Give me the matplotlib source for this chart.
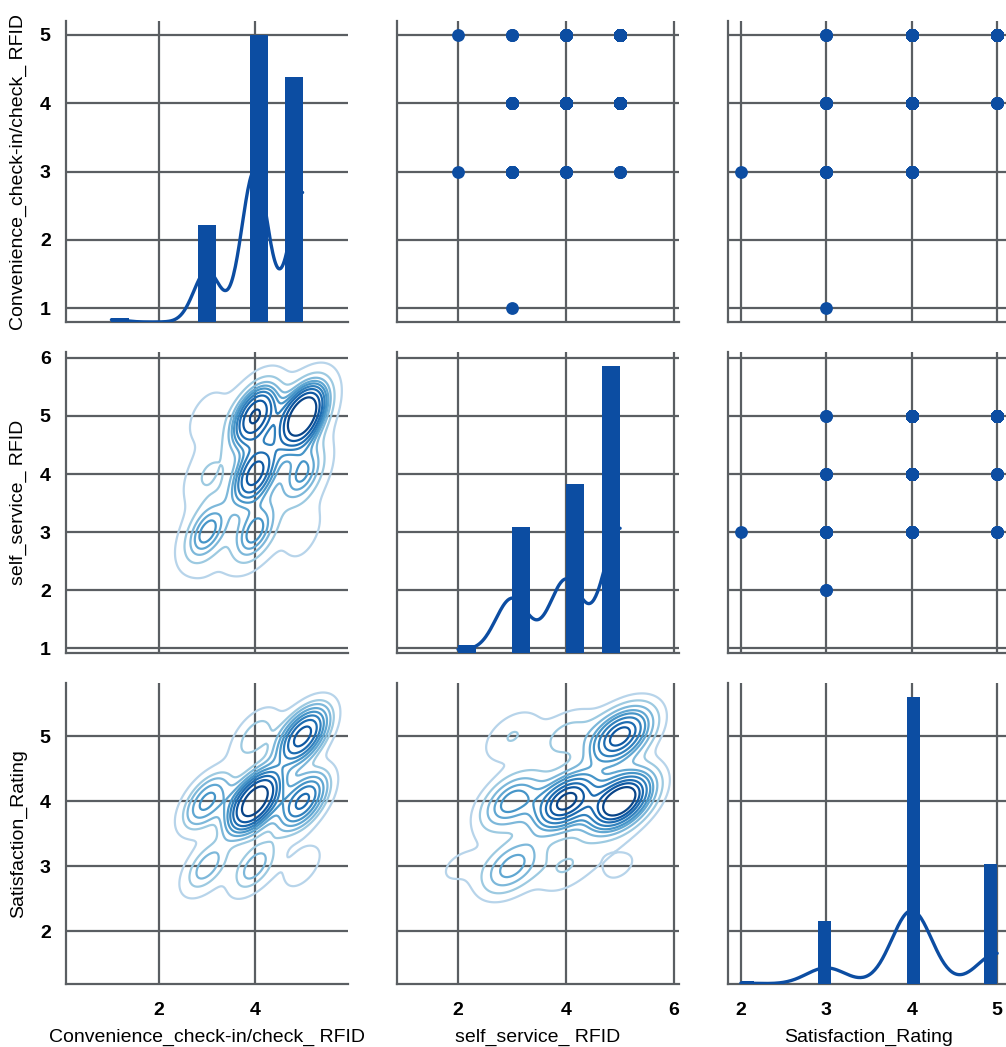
import numpy as np
import matplotlib
matplotlib.use("Agg")
import matplotlib.pyplot as plt

# rating combinations (convenience, self service, satisfaction) and how many answers had each
conv = [1, 3, 3, 5, 3, 3, 3, 3, 3, 3, 4, 4, 4, 4, 4, 4, 4, 4, 5, 5, 5, 5, 5, 5, 5, 5]
selfs = [3, 3, 2, 2, 3, 3, 4, 4, 5, 5, 3, 3, 3, 4, 4, 4, 5, 5, 3, 3, 4, 4, 4, 5, 5, 5]
sat = [3, 2, 3, 3, 3, 4, 3, 4, 3, 4, 3, 4, 5, 3, 4, 5, 4, 5, 4, 5, 3, 4, 5, 3, 4, 5]
count = [1, 1, 1, 1, 5, 8, 1, 4, 1, 2, 6, 6, 2, 2, 22, 1, 26, 3, 1, 2, 1, 8, 4, 1, 14, 26]

labels = ["Convenience_check-in/check_ RFID", "self_service_ RFID", "Satisfaction_Rating"]
x_ticks = [[2, 4], [2, 4, 6], [2, 3, 4, 5]]
y_ticks = [[1, 2, 3, 4, 5], [1, 2, 3, 4, 5, 6], [2, 3, 4, 5]]

blue = "#0c4da2"
grid_col = "#5a5e62"

plt.rcParams["font.family"] = ["Liberation Sans", "DejaVu Sans"]
plt.rcParams["font.size"] = 14

samples = [np.repeat(np.array(v, float), count) for v in (conv, selfs, sat)]


def kde1d(v, grid):
    h = v.std(ddof=1) * len(v) ** (-0.2)
    z = np.exp(-0.5 * ((grid[:, None] - v) / h) ** 2).sum(1)
    return z / (len(v) * h * np.sqrt(2 * np.pi))


def kde2d(x, y, gridsize=200, cut=3):
    data = np.vstack([x, y])
    n = data.shape[1]
    f = n ** (-1 / 6)
    cov = np.cov(data) * f ** 2
    inv = np.linalg.inv(cov)
    bw = np.sqrt(np.diag(cov))
    gx = np.linspace(x.min() - cut * bw[0], x.max() + cut * bw[0], gridsize)
    gy = np.linspace(y.min() - cut * bw[1], y.max() + cut * bw[1], gridsize)
    X, Y = np.meshgrid(gx, gy)
    dx = X[..., None] - x
    dy = Y[..., None] - y
    q = inv[0, 0] * dx ** 2 + 2 * inv[0, 1] * dx * dy + inv[1, 1] * dy ** 2
    Z = np.exp(-0.5 * q).sum(-1) / (n * 2 * np.pi * np.sqrt(np.linalg.det(cov)))
    return X, Y, Z


def iso_levels(Z, n_levels=10, thresh=0.05):
    vals = np.sort(Z.ravel())[::-1]
    cum = np.cumsum(vals) / vals.sum()
    idx = np.searchsorted(cum, 1 - np.linspace(thresh, 1, n_levels))
    return np.take(vals, idx, mode="clip")


W, H = 1006, 1047
fig = plt.figure(figsize=(W / 100, H / 100), dpi=100)

col_left = [66, 397, 728]
row_top = [21, 352, 683]
pw, ph = 282, 301
x_lims = [(0.05, 5.95), (0.87, 6.09), (1.85, 5.15)]
y_lims = [(0.8, 5.2), (0.92, 6.1), (1.19, 5.82)]
hist_bins = [11, 9, 20]
contour_cols = plt.get_cmap("Blues")(np.linspace(0.3, 1.0, 10))

for i in range(3):
    for j in range(3):
        ax = fig.add_axes([col_left[j] / W, 1 - (row_top[i] + ph) / H, pw / W, ph / H])
        ax.set_xlim(*x_lims[j])
        ax.set_ylim(*y_lims[i])
        ax.set_xticks(x_ticks[j])
        ax.set_yticks(y_ticks[i])
        ax.set_axisbelow(True)
        ax.grid(True, color=grid_col, linewidth=1.6)
        for s in ["top", "right"]:
            ax.spines[s].set_visible(False)
        for s in ["left", "bottom"]:
            ax.spines[s].set_color(grid_col)
            ax.spines[s].set_linewidth(1.6)
        ax.tick_params(axis="both", length=0, labelsize=14)
        ax.tick_params(axis="y", pad=11)
        ax.tick_params(axis="x", pad=13)
        for t in ax.get_xticklabels() + ax.get_yticklabels():
            t.set_fontweight("bold")
        if j > 0:
            ax.tick_params(axis="y", labelleft=False)
        else:
            ax.set_ylabel(labels[i], labelpad=9)
        if i < 2:
            ax.tick_params(axis="x", labelbottom=False)
        else:
            ax.set_xlabel(labels[j], labelpad=7)

        xv = samples[j]
        yv = samples[i]
        if i == j:
            tw = ax.twinx()
            tw.set_axis_off()
            dens, edges = np.histogram(xv, bins=hist_bins[j], density=True)
            tw.bar(edges[:-1], dens, width=np.diff(edges), align="edge",
                   color=blue, linewidth=0)
            gx = np.linspace(xv.min(), xv.max(), 200)
            kd = kde1d(xv, gx)
            tw.plot(gx, kd, color=blue, linewidth=2.4, solid_capstyle="round")
            tw.set_ylim(0, 1.05 * max(dens.max(), kd.max()))
            ax.set_xlim(*x_lims[j])
        elif i < j:
            ax.scatter(xv, yv, s=85, color=blue, linewidths=0, zorder=3)
        else:
            X, Y, Z = kde2d(xv, yv)
            ax.contour(X, Y, Z, levels=iso_levels(Z), colors=contour_cols, linewidths=1.6)

fig.savefig("out.png", dpi=100)
